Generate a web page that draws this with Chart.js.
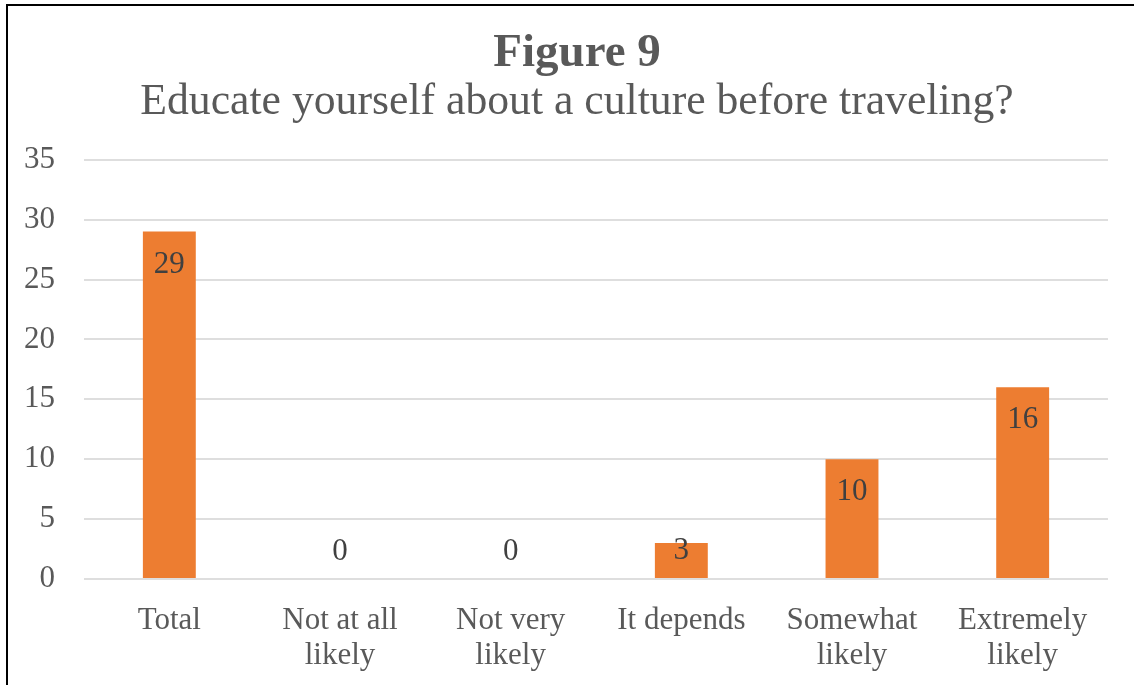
<!DOCTYPE html>
<html>
<head>
<meta charset="utf-8">
<title>Figure 9</title>
<script src="https://cdn.jsdelivr.net/npm/chart.js@4.4.1/dist/chart.umd.min.js"></script>
<style>
  html, body { margin: 0; padding: 0; background: #fff; overflow: hidden; }
  #frame {
    position: absolute; left: 6px; top: 4px; width: 1200px; height: 800px;
    border-left: 2px solid #000; border-top: 2px solid #000;
  }
  #chart { position: absolute; left: 0; top: 0; }
</style>
</head>
<body>
<div id="frame"></div>
<canvas id="chart" width="1134" height="685"></canvas>
<script>
// Survey answers: "Educate yourself about a culture before traveling?"
const categories = [
  'Total',
  ['Not at all', 'likely'],
  ['Not very', 'likely'],
  'It depends',
  ['Somewhat', 'likely'],
  ['Extremely', 'likely']
];
const responses = [29, 0, 0, 3, 10, 16];
const yMin = 0;
const yMax = 35;
const yStep = 5;

const SERIF = '"Liberation Serif", "Times New Roman", serif';
const GREY_TEXT = '#595959';

// Value labels placed just inside the top of each bar, kept above the baseline
const valueLabels = {
  id: 'valueLabels',
  afterDatasetsDraw(chart) {
    const ctx = chart.ctx;
    const meta = chart.getDatasetMeta(0);
    const values = chart.data.datasets[0].data;
    ctx.save();
    ctx.font = '31px ' + SERIF;
    ctx.fillStyle = '#404040';
    ctx.textAlign = 'center';
    ctx.textBaseline = 'middle';
    meta.data.forEach((bar, i) => {
      const y = Math.min(bar.y + 33, bar.base - 27);
      ctx.fillText(String(values[i]), bar.x, y);
    });
    ctx.restore();
  }
};

new Chart(document.getElementById('chart'), {
  type: 'bar',
  data: {
    labels: categories,
    datasets: [{
      data: responses,
      backgroundColor: '#ED7D31',
      borderWidth: 0,
      categoryPercentage: 1,
      barPercentage: 0.31
    }]
  },
  options: {
    responsive: false,
    devicePixelRatio: 1,
    animation: false,
    events: [],
    layout: { padding: { left: 20, right: 0, top: 0, bottom: 0 } },
    plugins: {
      legend: { display: false },
      tooltip: { enabled: false },
      title: {
        display: true,
        text: 'Figure 9',
        color: GREY_TEXT,
        font: { family: SERIF, size: 47, weight: 'bold', lineHeight: 1 },
        padding: { top: 30, bottom: 0 }
      },
      subtitle: {
        display: true,
        text: 'Educate yourself about a culture before traveling?',
        color: GREY_TEXT,
        font: { family: SERIF, size: 43.7, weight: 'normal', lineHeight: 1 },
        padding: { top: 4, bottom: 35 }
      }
    },
    scales: {
      x: {
        grid: { display: false, drawTicks: false },
        border: { display: false },
        ticks: {
          color: GREY_TEXT,
          font: { family: SERIF, size: 31, lineHeight: 1.13 },
          padding: 24,
          maxRotation: 0,
          autoSkip: false
        },
        afterFit(scale) { scale.height = 106; }
      },
      y: {
        min: yMin,
        max: yMax,
        grid: { color: '#dedede', lineWidth: 2, drawTicks: false },
        border: { display: false },
        ticks: {
          stepSize: yStep,
          color: GREY_TEXT,
          font: { family: SERIF, size: 31 },
          padding: 29
        },
        afterFit(scale) { scale.width = 64; }
      },
      // empty right-hand margin beside the plot
      yRight: {
        position: 'right',
        display: true,
        grid: { display: false, drawTicks: false },
        border: { display: false },
        ticks: { display: false },
        afterFit(scale) { scale.width = 26; }
      }
    }
  },
  plugins: [valueLabels]
});
</script>
</body>
</html>
